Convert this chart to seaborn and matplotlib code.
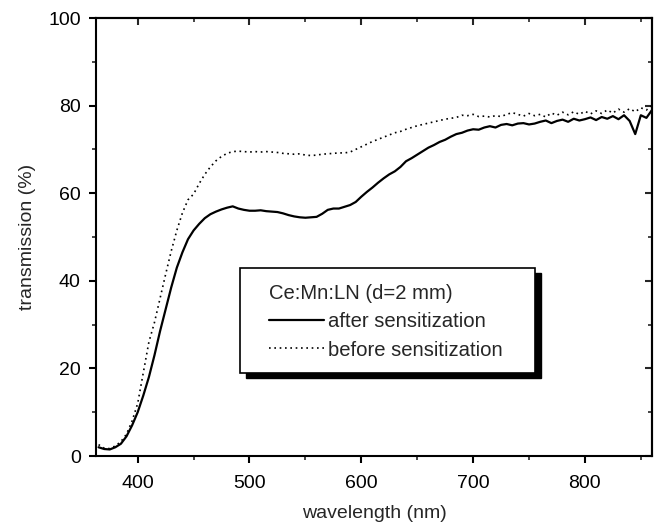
import numpy as np
import pandas as pd
import matplotlib
matplotlib.use("Agg")
import matplotlib.pyplot as plt
from matplotlib.patches import Rectangle
import seaborn as sns

# wavelength grid (nm), 5 nm step
wavelength = np.arange(365, 861, 5)

# transmission after sensitization (%)
after = [2.0, 1.6, 1.5, 2.0, 2.8, 4.5, 7.0, 10.0, 13.8, 18.0,
         23.0, 28.5, 33.5, 38.5, 43.0, 46.5, 49.5, 51.5, 53.0, 54.3,
         55.2, 55.8, 56.3, 56.7, 57.0, 56.5, 56.2, 56.0, 56.0, 56.1,
         55.9, 55.8, 55.7, 55.4, 55.0, 54.7, 54.5, 54.4, 54.5, 54.6,
         55.3, 56.2, 56.5, 56.5, 56.9, 57.3, 58.0, 59.2, 60.3, 61.3,
         62.4, 63.4, 64.3, 65.0, 66.0, 67.3, 68.0, 68.8, 69.6, 70.4,
         71.0, 71.7, 72.2, 72.9, 73.5, 73.8, 74.3, 74.6, 74.5, 75.0,
         75.3, 75.0, 75.6, 75.8, 75.5, 75.9, 76.0, 75.7, 75.9, 76.3,
         76.6, 76.0, 76.5, 76.8, 76.3, 77.0, 76.6, 76.9, 77.3, 76.7,
         77.4, 77.0, 77.6, 76.9, 77.8, 76.5, 73.5, 77.8, 77.2, 79.0]

# transmission before sensitization (%)
before = [2.6, 1.8, 1.7, 2.3, 3.3, 5.0, 8.0, 12.0, 19.0, 26.0,
          30.5, 36.0, 41.5, 46.8, 51.5, 55.5, 58.5, 59.8, 62.2, 64.3,
          66.0, 67.4, 68.4, 69.1, 69.5, 69.6, 69.5, 69.4, 69.5, 69.4,
          69.5, 69.4, 69.3, 69.1, 69.0, 68.9, 69.0, 68.7, 68.6, 68.7,
          68.9, 69.0, 69.1, 69.2, 69.2, 69.4, 70.0, 70.6, 71.2, 71.8,
          72.3, 72.8, 73.3, 73.8, 74.1, 74.6, 75.0, 75.4, 75.7, 76.0,
          76.3, 76.6, 76.9, 77.1, 77.3, 77.8, 77.7, 78.0, 77.5, 77.6,
          77.4, 77.7, 77.5, 78.0, 78.4, 78.0, 77.6, 78.2, 77.7, 78.0,
          77.4, 78.3, 77.8, 78.5, 77.9, 78.6, 78.0, 78.7, 78.1, 78.8,
          78.2, 79.0, 78.3, 79.2, 78.5, 79.3, 78.6, 79.5, 79.0, 80.0]

df = pd.DataFrame({"wavelength": wavelength, "after": after, "before": before})

sns.set_style("ticks")
plt.rcParams["font.family"] = ["Liberation Sans", "DejaVu Sans"]
plt.rcParams["font.size"] = 14

fig = plt.figure(figsize=(6.57, 5.25), dpi=100)
ax = fig.add_axes([0.1461, 0.1314, 0.8463, 0.8343])

sns.lineplot(data=df, x="wavelength", y="after", ax=ax, color="black",
             lw=1.6, label="after sensitization")
sns.lineplot(data=df, x="wavelength", y="before", ax=ax, color="black",
             lw=1.2, ls=(0, (1, 2.2)), label="before sensitization")

ax.set_xlim(362.7, 860)
ax.set_ylim(0, 100)
ax.set_xticks([400, 500, 600, 700, 800])
ax.set_xticks(np.arange(450, 860, 100), minor=True)
ax.set_yticks([0, 20, 40, 60, 80, 100])
ax.set_yticks(np.arange(10, 100, 20), minor=True)
ax.set_xlabel("wavelength (nm)", fontsize=14, labelpad=9.5)
ax.set_ylabel("transmission (%)", fontsize=14, labelpad=9)

for s in ax.spines.values():
    s.set_linewidth(1.5)
    s.set_color("black")
ax.tick_params(axis="x", which="major", pad=8.5)
ax.tick_params(axis="y", which="major", pad=6)
ax.tick_params(which="major", direction="out", length=5, width=1.5,
               labelsize=14, colors="black")
ax.tick_params(which="minor", direction="out", length=3, width=1.2)

# mirrored ticks pointing inward on top and right
top = ax.secondary_xaxis("top")
top.set_xticks([400, 500, 600, 700, 800])
top.set_xticks(np.arange(450, 860, 100), minor=True)
top.tick_params(which="major", direction="in", length=5, width=1.5, labeltop=False)
top.tick_params(which="minor", direction="in", length=3, width=1.2)
top.spines["top"].set_linewidth(1.5)
right = ax.secondary_yaxis("right")
right.set_yticks([0, 20, 40, 60, 80, 100])
right.set_yticks(np.arange(10, 100, 20), minor=True)
right.tick_params(which="major", direction="in", length=5, width=1.5, labelright=False)
right.tick_params(which="minor", direction="in", length=3, width=1.2)
right.spines["right"].set_linewidth(1.5)

# legend box with drop shadow
bx, by, bw, bh = 0.259, 0.189, 0.531, 0.240
ax.add_patch(Rectangle((bx + 0.011, by - 0.011), bw, bh, transform=ax.transAxes,
                       facecolor="black", edgecolor="black", zorder=5))
ax.add_patch(Rectangle((bx, by), bw, bh, transform=ax.transAxes,
                       facecolor="white", edgecolor="black", lw=1.2, zorder=6))
leg = ax.legend(loc="upper left", bbox_to_anchor=(0.311, 0.392), frameon=False,
                title="Ce:Mn:LN (d=2 mm)", title_fontsize=14.6, fontsize=14.6,
                handlelength=2.7, handletextpad=0.2, borderpad=0, borderaxespad=0,
                labelspacing=0.45)
leg._legend_box.align = "left"
leg.set_zorder(7)

fig.savefig("out.png", dpi=100)
